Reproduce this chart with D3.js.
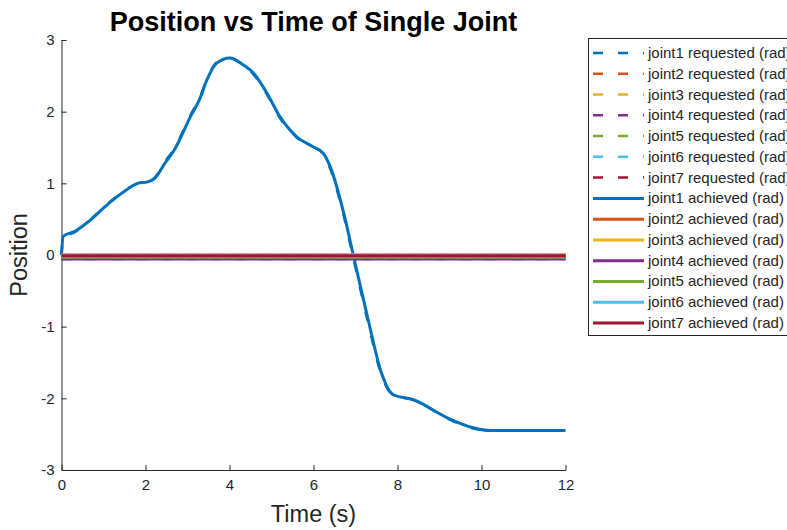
<!DOCTYPE html>
<html>
<head>
<meta charset="utf-8">
<script src="https://cdn.jsdelivr.net/npm/d3@7"></script>
<style>
  body { margin: 0; background: #fff; }
  text { font-family: "Liberation Sans", Arial, Helvetica, sans-serif; fill: #262626; }
</style>
</head>
<body>
<div id="chart"></div>
<script>
// joint1 samples
const time1 = [0, 0.04, 0.32, 0.63, 1.03, 1.43, 1.82, 2.05, 2.22, 2.46, 2.67, 3.07, 3.3, 3.46, 3.7, 4.01, 4.33, 4.57, 4.89, 5.2, 5.6, 5.99, 6.23, 6.4, 6.73, 6.97, 7.3, 7.62, 7.9, 8.38, 9.18, 9.8, 10.2, 11, 12];
const joint1Achieved = [0, 0.26, 0.33, 0.46, 0.67, 0.86, 1.0, 1.02, 1.07, 1.28, 1.45, 1.93, 2.19, 2.44, 2.68, 2.75, 2.65, 2.54, 2.26, 1.93, 1.65, 1.51, 1.42, 1.23, 0.56, -0.06, -0.9, -1.65, -1.95, -2.02, -2.27, -2.41, -2.45, -2.45, -2.45];
const joint1Requested = [0, 0.25, 0.32, 0.46, 0.68, 0.87, 1.0, 1.02, 1.08, 1.3, 1.47, 1.95, 2.21, 2.45, 2.69, 2.75, 2.64, 2.52, 2.24, 1.91, 1.64, 1.51, 1.41, 1.2, 0.52, -0.1, -0.95, -1.68, -1.96, -2.02, -2.28, -2.42, -2.45, -2.45, -2.45];

// the other joints stay (almost) still
const restTime = [0, 12];
const joint2 = [0, 0];
const joint3 = [0, 0];
const joint4 = [-0.055, -0.055];
const joint5 = [-0.03, -0.03];
const joint6 = [-0.01, -0.01];
const joint7 = [-0.01, -0.01];

const jointNames = ['joint1', 'joint2', 'joint3', 'joint4', 'joint5', 'joint6', 'joint7'];
const colors = ['#0072BD', '#D95319', '#EDB120', '#7E2F8E', '#77AC30', '#4DBEEE', '#A2142F'];
const xTicks = [0, 2, 4, 6, 8, 10, 12];
const yTicks = [-3, -2, -1, 0, 1, 2, 3];

const width = 787, height = 530;
const margin = { left: 61.5, right: 221.5, top: 40, bottom: 60 };

const svg = d3.select('#chart').append('svg')
    .attr('width', width)
    .attr('height', height);

const x = d3.scaleLinear().domain([0, 12]).range([margin.left, width - margin.right]);
const y = d3.scaleLinear().domain([-3, 3]).range([height - margin.bottom, margin.top]);

// series: requested first (dashed), then achieved (solid)
const restData = [null, joint2, joint3, joint4, joint5, joint6, joint7];
const series = [];
jointNames.forEach((name, i) => {
    const t = i === 0 ? time1 : restTime;
    const v = i === 0 ? joint1Requested : restData[i];
    series.push({ label: name + ' requested (rad)', color: colors[i], dashed: true, pts: t.map((d, k) => [d, v[k]]) });
});
jointNames.forEach((name, i) => {
    const t = i === 0 ? time1 : restTime;
    const v = i === 0 ? joint1Achieved : restData[i];
    series.push({ label: name + ' achieved (rad)', color: colors[i], dashed: false, pts: t.map((d, k) => [d, v[k]]) });
});

const line = d3.line()
    .x(d => x(d[0]))
    .y(d => y(d[1]))
    .curve(d3.curveMonotoneX);

// axes
const fmt = d => String(d);
const xAxis = svg.append('g')
    .attr('transform', 'translate(0,' + y(-3) + ')')
    .call(d3.axisBottom(x).tickValues(xTicks).tickFormat(fmt).tickSize(-5).tickPadding(9).tickSizeOuter(0));
const yAxis = svg.append('g')
    .attr('transform', 'translate(' + x(0) + ',0)')
    .call(d3.axisLeft(y).tickValues(yTicks).tickFormat(fmt).tickSize(-5).tickPadding(7).tickSizeOuter(0));
[xAxis, yAxis].forEach(a => {
    a.selectAll('path, line').attr('stroke', '#262626');
    a.selectAll('text').style('font-size', '15px').attr('fill', '#262626');
});

// lines
const lines = svg.append('g').attr('class', 'data');
series.forEach(s => {
    lines.append('path')
        .datum(s.pts)
        .attr('fill', 'none')
        .attr('stroke', s.color)
        .attr('stroke-width', s.dashed ? 2.5 : 3)
        .attr('stroke-dasharray', s.dashed ? '10,15' : null)
        .attr('d', line);
});

// title & labels
svg.append('text')
    .attr('x', (x(0) + x(12)) / 2)
    .attr('y', 31)
    .attr('text-anchor', 'middle')
    .style('font-size', '27px')
    .style('font-weight', 'bold')
    .style('fill', '#000')
    .text('Position vs Time of Single Joint');

svg.append('text')
    .attr('x', (x(0) + x(12)) / 2)
    .attr('y', 522)
    .attr('text-anchor', 'middle')
    .style('font-size', '23.5px')
    .text('Time (s)');

svg.append('text')
    .attr('transform', 'translate(27,' + y(0) + ') rotate(-90)')
    .attr('text-anchor', 'middle')
    .style('font-size', '23.5px')
    .text('Position');

// legend
const legend = svg.append('g').attr('class', 'legend');
const legX = 588, legY = 38, rowH = 20.77;
legend.append('rect')
    .attr('x', legX + 0.5)
    .attr('y', legY + 0.5)
    .attr('width', 260)
    .attr('height', 297)
    .attr('fill', '#fff')
    .attr('stroke', '#262626')
    .attr('stroke-width', 1);

series.forEach((s, i) => {
    const cy = legY + 15 + i * rowH;
    legend.append('line')
        .attr('x1', 593).attr('x2', 644)
        .attr('y1', cy).attr('y2', cy)
        .attr('stroke', s.color)
        .attr('stroke-width', s.dashed ? 2.5 : 3)
        .attr('stroke-dasharray', s.dashed ? '10,15' : null);
    legend.append('text')
        .attr('x', 648)
        .attr('y', cy + 5)
        .style('font-size', '15px')
        .text(s.label);
});
</script>
</body>
</html>
